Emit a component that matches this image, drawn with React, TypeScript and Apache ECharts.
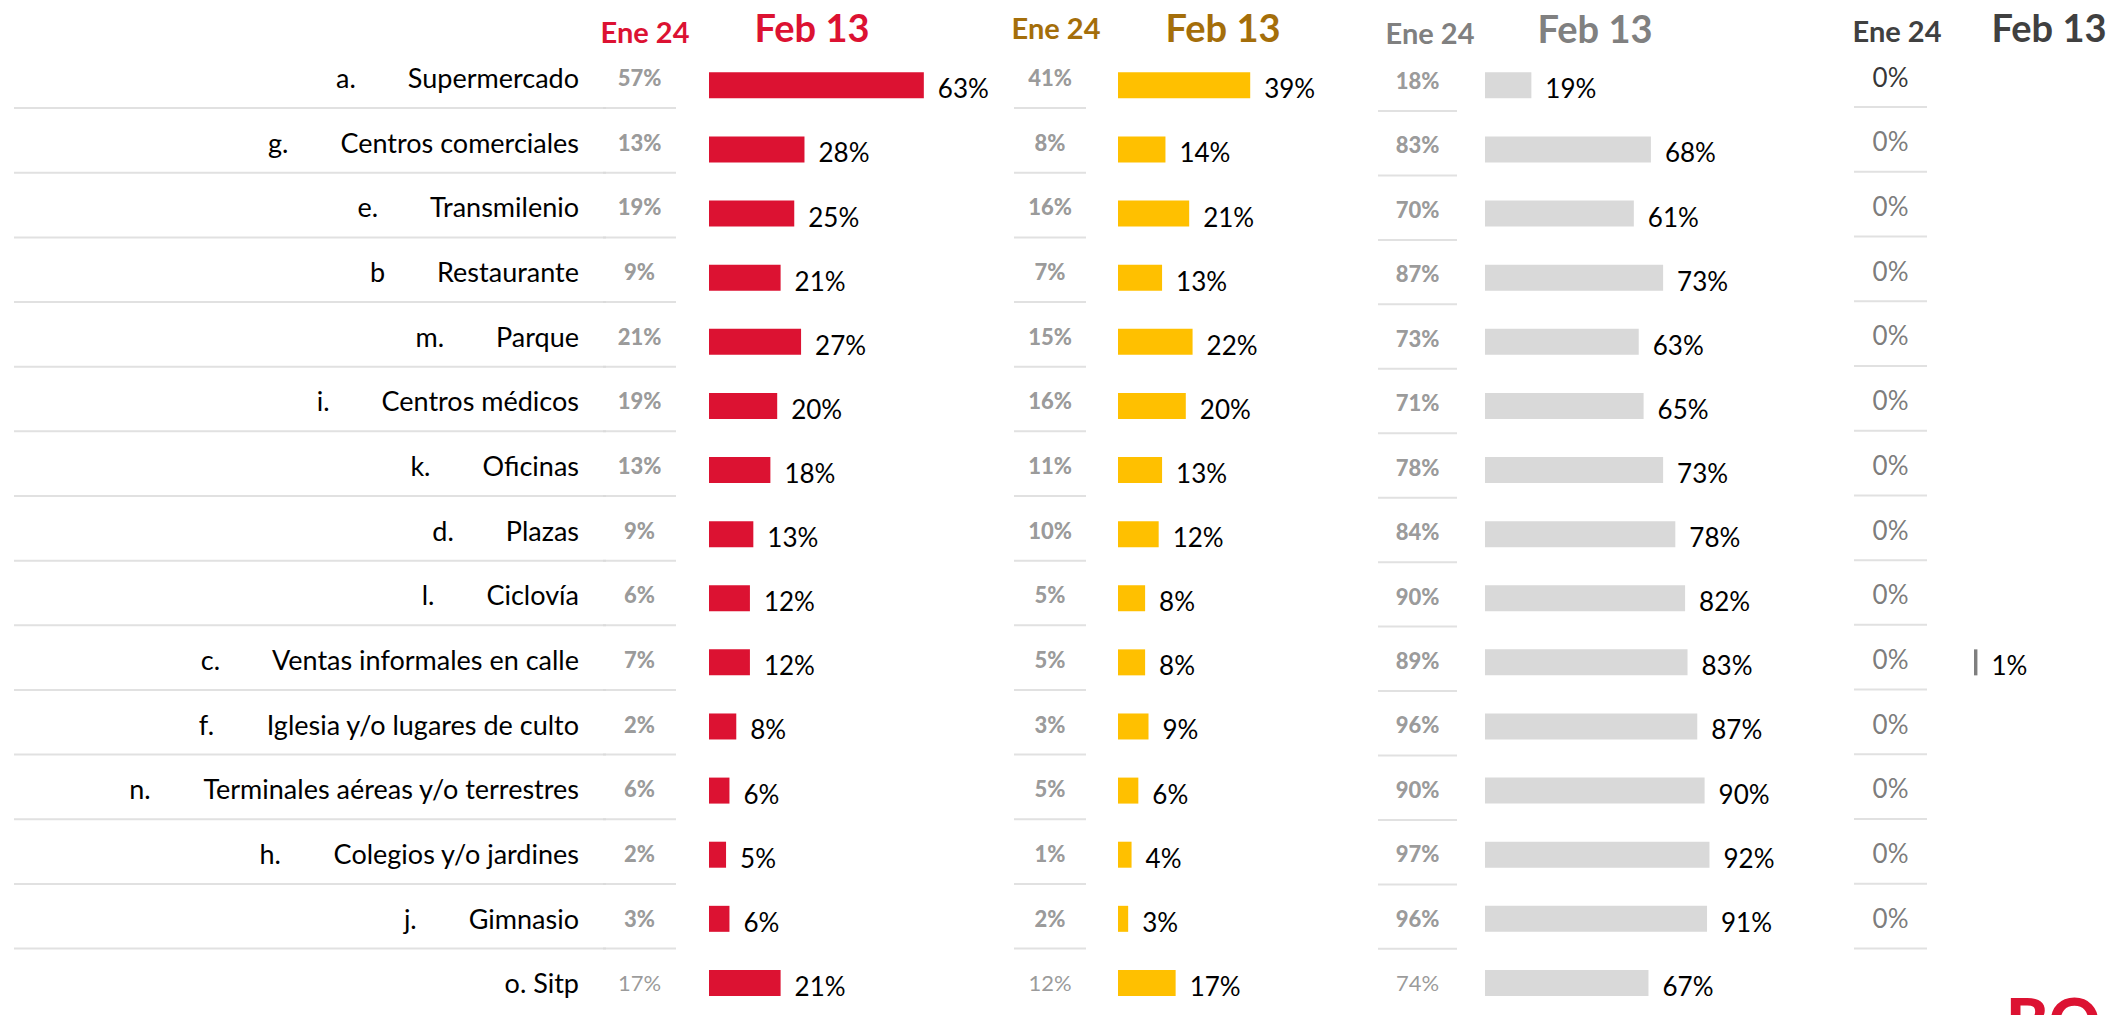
import React, { useEffect, useRef } from "react";
import * as echarts from "echarts";

// ---------- DATA ----------
const prefixes = ["a.", "g.", "e.", "b", "m.", "i.", "k.", "d.", "l.", "c.", "f.", "n.", "h.", "j.", ""];
const names = [
  "Supermercado",
  "Centros comerciales",
  "Transmilenio",
  "Restaurante",
  "Parque",
  "Centros médicos",
  "Oficinas",
  "Plazas",
  "Ciclovía",
  "Ventas informales en calle",
  "Iglesia y/o lugares de culto",
  "Terminales aéreas y/o terrestres",
  "Colegios y/o jardines",
  "Gimnasio",
  "o. Sitp",
];
const periods = ["Ene 24", "Feb 13"];
const redEne = [57, 13, 19, 9, 21, 19, 13, 9, 6, 7, 2, 6, 2, 3, 17];
const redFeb = [63, 28, 25, 21, 27, 20, 18, 13, 12, 12, 8, 6, 5, 6, 21];
const yellowEne = [41, 8, 16, 7, 15, 16, 11, 10, 5, 5, 3, 5, 1, 2, 12];
const yellowFeb = [39, 14, 21, 13, 22, 20, 13, 12, 8, 8, 9, 6, 4, 3, 17];
const grayEne = [18, 83, 70, 87, 73, 71, 78, 84, 90, 89, 96, 90, 97, 96, 74];
const grayFeb = [19, 68, 61, 73, 63, 65, 73, 78, 82, 83, 87, 90, 92, 91, 67];
const darkEne = [0, 0, 0, 0, 0, 0, 0, 0, 0, 0, 0, 0, 0, 0, null];
const darkFeb = [0, 0, 0, 0, 0, 0, 0, 0, 0, 1, 0, 0, 0, 0, null];

// ---------- LAYOUT ----------
const FONT = "Lato, 'Noto Sans', sans-serif";
const N = names.length;
const ROW0 = 78;
const STEP = 65.5;
const BAR_DY = 8;
const H = STEP * N;
const labelTop = ROW0 - STEP / 2;
const barTop = labelTop + BAR_DY;
const RED = "#DC1232";

const groups = [
  {
    ene: redEne, feb: redFeb, bar: RED, head: RED,
    eneLeft: 603, eneWidth: 73, eneDy: 0, eneBold: true, eneSize: 22, eneColor: "#7F7F7F",
    barLeft: 709, barWidth: 341, barMax: 100,
    eneHead: [645, 31, 29], febHead: [812, 27, 38],
  },
  {
    ene: yellowEne, feb: yellowFeb, bar: "#FFC000", head: "#A46E0A",
    eneLeft: 1014, eneWidth: 72, eneDy: 0, eneBold: true, eneSize: 22, eneColor: "#7F7F7F",
    barLeft: 1118, barWidth: 339, barMax: 100,
    eneHead: [1056, 27, 29], febHead: [1223, 27, 38],
  },
  {
    ene: grayEne, feb: grayFeb, bar: "#D9D9D9", head: "#808080",
    eneLeft: 1378, eneWidth: 79, eneDy: 3, eneBold: true, eneSize: 22, eneColor: "#7F7F7F",
    barLeft: 1485, barWidth: 244, barMax: 100,
    eneHead: [1430, 32, 29], febHead: [1595, 28, 38],
  },
  {
    ene: darkEne, feb: darkFeb, bar: "#7F7F7F", head: "#404040",
    eneLeft: 1854, eneWidth: 73, eneDy: -1, eneBold: false, eneSize: 26, eneColor: "#595959",
    barLeft: 1974, barWidth: 137, barMax: 40,
    eneHead: [1897, 30, 29], febHead: [2049, 27, 38],
  },
];

function sepSeries(gi: number, w: number) {
  return {
    type: "scatter",
    xAxisIndex: gi,
    yAxisIndex: gi,
    silent: true,
    symbol: "rect",
    symbolSize: [w, 2],
    symbolOffset: [0, 30.5],
    itemStyle: { color: "#D9D9D9" },
    data: names.slice(0, N - 1).map((_, i) => [0.5, i]),
    z: 1,
  };
}

export default function App() {
  const ref = useRef<HTMLDivElement>(null);
  useEffect(() => {
    const chart = echarts.init(ref.current!, null, { renderer: "svg" });
    const grids: any[] = [];
    const xAxes: any[] = [];
    const yAxes: any[] = [];
    const series: any[] = [];
    const graphics: any[] = [];

    // names column
    grids.push({ left: 14, top: labelTop, width: 592, height: H });
    xAxes.push({ gridIndex: 0, type: "value", min: 0, max: 1, show: false });
    yAxes.push({
      gridIndex: 0,
      type: "category",
      data: names,
      inverse: true,
      offset: -573,
      axisLine: { show: false },
      axisTick: { show: false },
      splitLine: { show: false },
      axisLabel: {
        interval: 0,
        margin: 8,
        formatter: (v: string, i: number) =>
          prefixes[i] ? `{l|${prefixes[i]}}{n|${v}}` : `{n|${v}}`,
        rich: {
          l: { fontSize: 27, color: "#000", fontFamily: FONT, padding: [0, 52, 0, 0] },
          n: { fontSize: 27, color: "#000", fontFamily: FONT },
        },
      },
    });
    series.push(sepSeries(0, 592));

    groups.forEach((g, k) => {
      // ene column grid
      const gi = grids.length;
      grids.push({ left: g.eneLeft, top: labelTop + g.eneDy, width: g.eneWidth, height: H });
      xAxes.push({ gridIndex: gi, type: "value", min: 0, max: 1, show: false });
      yAxes.push({ gridIndex: gi, type: "category", data: names, inverse: true, show: false });
      series.push(sepSeries(gi, g.eneWidth));
      const eneData: any[] = [];
      g.ene.forEach((v, i) => {
        if (v === null || v === undefined) return;
        const item: any = { value: [0.5, i, v] };
        if (i === N - 1) item.label = { fontWeight: "normal" };
        if (k === 3 && i === 0) item.label = { color: "#000" };
        eneData.push(item);
      });
      series.push({
        type: "scatter",
        xAxisIndex: gi,
        yAxisIndex: gi,
        silent: true,
        symbolSize: 1,
        itemStyle: { color: "rgba(0,0,0,0)" },
        data: eneData,
        label: {
          show: true,
          position: "inside",
          formatter: (p: any) => p.value[2] + "%",
          fontSize: g.eneSize,
          fontWeight: g.eneBold ? 900 : "normal",
          color: g.eneColor,
          fontFamily: FONT,
        },
      });

      // bar grid
      const bi = grids.length;
      grids.push({ left: g.barLeft, top: barTop, width: g.barWidth, height: H });
      xAxes.push({ gridIndex: bi, type: "value", min: 0, max: g.barMax, show: false });
      yAxes.push({ gridIndex: bi, type: "category", data: names, inverse: true, show: false });
      series.push({
        type: "bar",
        xAxisIndex: bi,
        yAxisIndex: bi,
        barWidth: 26,
        silent: true,
        data: g.feb,
        itemStyle: { color: g.bar },
        label: {
          show: true,
          position: "right",
          distance: 14,
          offset: [0, 3],
          formatter: (p: any) => (p.value ? p.value + "%" : ""),
          fontSize: 26,
          color: "#000",
          fontFamily: FONT,
        },
      });

      // headers
      graphics.push({
        type: "text",
        x: g.eneHead[0],
        y: g.eneHead[1],
        style: {
          text: periods[0],
          fill: g.head,
          font: `bold ${g.eneHead[2]}px ${FONT}`,
          align: "center",
          verticalAlign: "middle",
        },
      });
      graphics.push({
        type: "text",
        x: g.febHead[0],
        y: g.febHead[1],
        style: {
          text: periods[1],
          fill: g.head,
          font: `bold ${g.febHead[2]}px ${FONT}`,
          align: "center",
          verticalAlign: "middle",
        },
      });
    });

    // partial logo at bottom-right corner (cut off by the edge, as in the reference)
    graphics.push({
      type: "text",
      x: 2006,
      y: 988,
      style: { text: "BO", fill: RED, font: `900 64px ${FONT}`, align: "left", verticalAlign: "top" },
    });

    chart.setOption({
      animation: false,
      backgroundColor: "#fff",
      grid: grids,
      xAxis: xAxes,
      yAxis: yAxes,
      series,
      graphic: graphics,
    });
    return () => chart.dispose();
  }, []);
  return (
    <div
      ref={ref}
      style={{ position: "absolute", left: 0, top: 0, width: 2111, height: 1015, background: "#fff" }}
    />
  );
}
